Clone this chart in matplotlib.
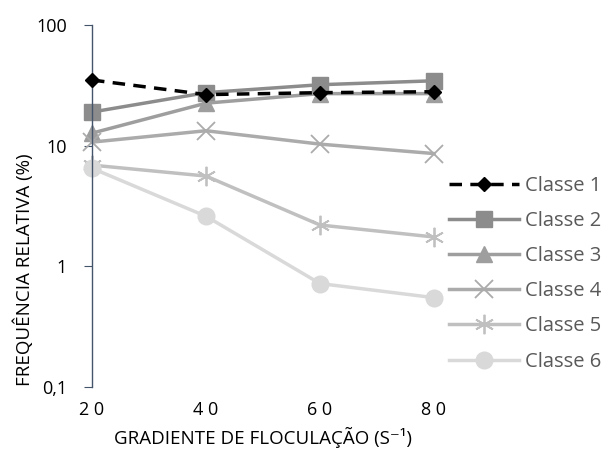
import matplotlib
matplotlib.use("Agg")
import matplotlib.pyplot as plt

plt.rcParams['font.family'] = ['Open Sans', 'DejaVu Sans']

gradiente = [20, 40, 60, 80]
classe1 = [35, 26.5, 27.5, 28]
classe2 = [19, 27.5, 32, 34.5]
classe3 = [12.7, 22.5, 27, 27]
classe4 = [10.7, 13.3, 10.3, 8.6]
classe5 = [6.9, 5.6, 2.2, 1.75]
classe6 = [6.5, 2.6, 0.72, 0.55]

nomes = ['Classe 1', 'Classe 2', 'Classe 3', 'Classe 4', 'Classe 5', 'Classe 6']
series = [classe1, classe2, classe3, classe4, classe5, classe6]
cores = ['#000000', '#8c8c8c', '#9e9e9e', '#ababab', '#c0c0c0', '#d9d9d9']
marcadores = ['D', 's', '^', 'x', (6, 2, 0), 'o']
tamanhos = [7, 12, 12, 13, 14, 12]

fig = plt.figure(figsize=(6.04, 4.59), dpi=100)
ax = fig.add_axes([0.1523, 0.1569, 0.5662, 0.7886])

for nome, vals, cor, mk, ms in zip(nomes, series, cores, marcadores, tamanhos):
    if nome == 'Classe 1':
        ax.plot(gradiente, vals, color=cor, lw=2.5, ls=(0, (3.6, 2.4)), marker=mk,
                ms=ms, label=nome, clip_on=False, zorder=5)
    elif mk in ('x', (6, 2, 0)):
        ax.plot(gradiente, vals, color=cor, lw=2.5, marker=mk, ms=ms, mew=1.3,
                label=nome, clip_on=False)
    else:
        ax.plot(gradiente, vals, color=cor, lw=2.5, marker=mk, ms=ms,
                label=nome, clip_on=False)

ax.set_yscale('log')
ax.set_ylim(0.1, 100)
ax.set_xlim(20, 80)
ax.set_yticks([0.1, 1, 10, 100])
ax.set_yticklabels(['0,1', '1', '10', '100'])
ax.minorticks_off()
ax.set_xticks(gradiente)
ax.set_xticklabels(['2 0', '4 0', '6 0', '8 0'])

for lado in ['top', 'right', 'bottom']:
    ax.spines[lado].set_visible(False)
ax.spines['left'].set_color('#44546a')
ax.spines['left'].set_linewidth(1.0)
ax.tick_params(axis='y', direction='out', length=6, color='#44546a',
               labelsize=13, labelcolor='#000000', pad=12)
ax.tick_params(axis='x', length=0, labelsize=13, labelcolor='#000000', pad=10)

ax.set_xlabel('GRADIENTE DE FLOCULAÇÃO (S⁻¹)', fontsize=13.5, color='#000000',
              labelpad=6)
ax.set_ylabel('FREQUÊNCIA RELATIVA (%)', fontsize=13.5, color='#000000')
ax.yaxis.set_label_coords(-0.17, 0.323)

leg = ax.legend(loc='upper left', bbox_to_anchor=(1.02, 0.605), frameon=False,
                fontsize=14.5, handlelength=3.5, labelspacing=0.75,
                handletextpad=0.3, borderaxespad=0)
for t in leg.get_texts():
    t.set_color('#595959')

fig.savefig('out.png', dpi=100)
